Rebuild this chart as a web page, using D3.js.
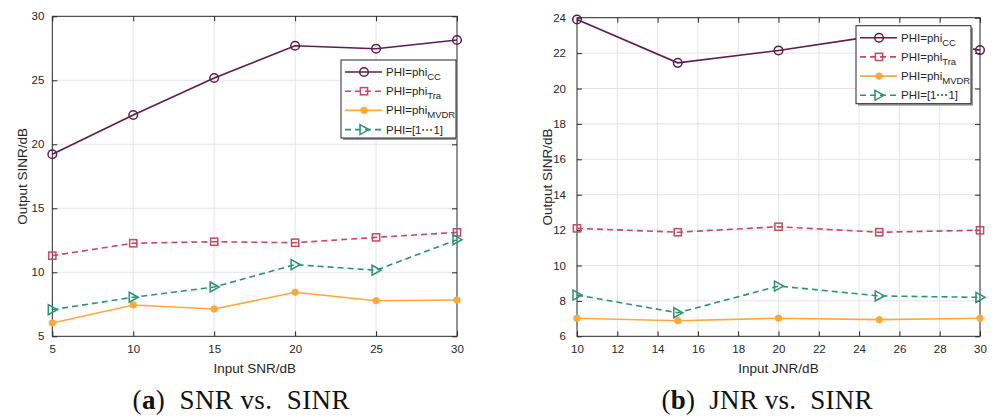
<!DOCTYPE html>
<html><head><meta charset="utf-8">
<script src="https://cdn.jsdelivr.net/npm/d3@7"></script>
<style>body{margin:0;background:#fff}svg{display:block}</style>
</head><body>
<svg id="c" width="997" height="419"></svg>
<script>
// ---- data ----
const snrX = [5, 10, 15, 20, 25, 30];
const snrCC   = [19.22, 22.29, 25.18, 27.70, 27.47, 28.15];
const snrTra  = [11.30, 12.27, 12.39, 12.31, 12.73, 13.12];
const snrMVDR = [6.04, 7.45, 7.13, 8.44, 7.78, 7.84];
const snrOnes = [7.08, 8.05, 8.85, 10.60, 10.16, 12.55];
const snrXTicks = [5, 10, 15, 20, 25, 30];
const snrYTicks = [5, 10, 15, 20, 25, 30];

const jnrX = [10, 15, 20, 25, 30];
const jnrCC   = [23.90, 21.45, 22.15, 23.00, 22.17];
const jnrTra  = [12.10, 11.88, 12.19, 11.88, 11.99];
const jnrMVDR = [7.02, 6.88, 7.02, 6.94, 7.02];
const jnrOnes = [8.33, 7.33, 8.84, 8.28, 8.20];
const jnrXTicks = [10, 12, 14, 16, 18, 20, 22, 24, 26, 28, 30];
const jnrYTicks = [6, 8, 10, 12, 14, 16, 18, 20, 22, 24];

const seriesNames = [["PHI=phi","CC"],["PHI=phi","Tra"],["PHI=phi","MVDR"],["PHI=[1\u22EF1]",""]];
const colors = ["#5e1c4f", "#c24a62", "#fca93a", "#2a9272"];
const dashes = [null, "6,4", null, "6,4"];
const markers = ["circle", "square", "dot", "triangle"];

const svg = d3.select("#c");
const FONT = "'Liberation Sans', Arial, sans-serif";
const TXT = "#262626";

function drawMarker(g, type, x, y, col) {
  if (type === "circle") {
    g.append("circle").attr("cx", x).attr("cy", y).attr("r", 4.3)
      .attr("fill", "none").attr("stroke", col).attr("stroke-width", 1.5);
  } else if (type === "square") {
    g.append("rect").attr("x", x - 3.6).attr("y", y - 3.6).attr("width", 7.2).attr("height", 7.2)
      .attr("fill", "none").attr("stroke", col).attr("stroke-width", 1.5);
  } else if (type === "dot") {
    g.append("circle").attr("cx", x).attr("cy", y).attr("r", 3.3)
      .attr("fill", col).attr("stroke", col).attr("stroke-width", 0.8);
  } else {
    g.append("path").attr("d", `M${x-4},${y-5}L${x+5},${y}L${x-4},${y+5}Z`)
      .attr("fill", "none").attr("stroke", col).attr("stroke-width", 1.5);
  }
}

function panel(opt) {
  const {x0, x1, y0, y1, xDom, yDom, xTicks, yTicks, xs, ys, xLabel, yLabelX, tickGap, legend, caption, capX, capW, capTag} = opt;
  const g = svg.append("g");
  const x = d3.scaleLinear().domain(xDom).range([x0, x1]);
  const y = d3.scaleLinear().domain(yDom).range([y1, y0]);

  // grid
  g.append("g").selectAll("line").data(xTicks.slice(1, -1)).join("line")
    .attr("x1", d => x(d)).attr("x2", d => x(d)).attr("y1", y0).attr("y2", y1)
    .attr("stroke", "#e4e4e4").attr("stroke-width", 1);
  g.append("g").selectAll("line").data(yTicks.slice(1, -1)).join("line")
    .attr("y1", d => y(d)).attr("y2", d => y(d)).attr("x1", x0).attr("x2", x1)
    .attr("stroke", "#e4e4e4").attr("stroke-width", 1);

  // axes via d3 axis
  const ax = g.append("g").attr("transform", `translate(0,${y1})`)
    .call(d3.axisBottom(x).tickValues(xTicks).tickSize(-5).tickPadding(9).tickSizeOuter(0));
  const ay = g.append("g").attr("transform", `translate(${x0},0)`)
    .call(d3.axisLeft(y).tickValues(yTicks).tickSize(-5).tickPadding(tickGap).tickSizeOuter(0));
  const at = g.append("g").attr("transform", `translate(0,${y0})`)
    .call(d3.axisTop(x).tickValues(xTicks).tickSize(-5).tickFormat("").tickSizeOuter(0));
  const ar = g.append("g").attr("transform", `translate(${x1},0)`)
    .call(d3.axisRight(y).tickValues(yTicks).tickSize(-5).tickFormat("").tickSizeOuter(0));
  [ax, ay, at, ar].forEach(a => {
    a.select(".domain").remove();
    a.selectAll("line").attr("stroke", TXT).attr("stroke-width", 1);
    a.selectAll("text").attr("font-family", FONT).attr("font-size", 11.5).attr("fill", TXT);
  });
  g.append("rect").attr("x", x0).attr("y", y0).attr("width", x1 - x0).attr("height", y1 - y0)
    .attr("fill", "none").attr("stroke", TXT).attr("stroke-width", 1);

  // series
  ys.forEach((vals, i) => {
    const line = d3.line().x((d, j) => x(xs[j])).y(d => y(d));
    g.append("path").datum(vals).attr("d", line).attr("fill", "none")
      .attr("stroke", colors[i]).attr("stroke-width", 1.6)
      .attr("stroke-dasharray", dashes[i]);
    vals.forEach((v, j) => drawMarker(g, markers[i], x(xs[j]), y(v), colors[i]));
  });

  // labels
  g.append("text").attr("x", (x0 + x1) / 2).attr("y", y1 + 37).attr("text-anchor", "middle")
    .attr("font-family", FONT).attr("font-size", 13.5).attr("fill", TXT).text(xLabel);
  g.append("text").attr("transform", `translate(${yLabelX},${(y0 + y1) / 2}) rotate(-90)`)
    .attr("text-anchor", "middle").attr("dy", "0.35em")
    .attr("font-family", FONT).attr("font-size", 13.5).attr("fill", TXT).text("Output SINR/dB");

  // legend
  const L = legend;
  g.append("rect").attr("x", L.x + 2).attr("y", L.y + 2).attr("width", L.w).attr("height", L.h).attr("fill", "#9a9a9a");
  g.append("rect").attr("x", L.x).attr("y", L.y).attr("width", L.w).attr("height", L.h)
    .attr("fill", "#fff").attr("stroke", TXT).attr("stroke-width", 1);
  seriesNames.forEach((nm, i) => {
    const ry = L.y + 12 + i * 19.2;
    g.append("line").attr("x1", L.x + 4).attr("x2", L.x + 41).attr("y1", ry).attr("y2", ry)
      .attr("stroke", colors[i]).attr("stroke-width", 1.6).attr("stroke-dasharray", dashes[i]);
    drawMarker(g, markers[i], L.x + 23, ry, colors[i]);
    const t = g.append("text").attr("x", L.x + 45).attr("y", ry + 4)
      .attr("font-family", FONT).attr("font-size", 11.5).attr("fill", TXT);
    t.append("tspan").text(nm[0]);
    if (nm[1]) t.append("tspan").attr("dy", 4).attr("font-size", 9.5).text(nm[1]);
  });

  // caption
  const c = g.append("text").attr("x", capX).attr("y", 409).attr("text-anchor", "middle")
    .attr("textLength", capW).attr("lengthAdjust", "spacing")
    .attr("font-family", "'Liberation Serif', 'DejaVu Serif', serif").attr("font-size", 27).attr("fill", "#111");
  c.append("tspan").text("(");
  c.append("tspan").attr("font-weight", "bold").text(capTag);
  c.append("tspan").text(")\u00A0 " + caption);
}

panel({x0: 52.3, x1: 457, y0: 16.3, y1: 336.3, xDom: [5, 30], yDom: [5, 30],
  xTicks: snrXTicks, yTicks: snrYTicks, xs: snrX, ys: [snrCC, snrTra, snrMVDR, snrOnes],
  xLabel: "Input SNR/dB", yLabelX: 22, tickGap: 8,
  legend: {x: 341, y: 60, w: 115, h: 78}, caption: "SNR vs.\u00A0 SINR", capX: 241, capW: 217, capTag: "a"});

panel({x0: 577, x1: 980, y0: 17.7, y1: 336.3, xDom: [10, 30], yDom: [6, 24],
  xTicks: jnrXTicks, yTicks: jnrYTicks, xs: jnrX, ys: [jnrCC, jnrTra, jnrMVDR, jnrOnes],
  xLabel: "Input JNR/dB", yLabelX: 547, tickGap: 11,
  legend: {x: 856, y: 25.7, w: 115, h: 78}, caption: "JNR vs.\u00A0 SINR", capX: 767, capW: 211, capTag: "b"});
</script>
</body></html>
